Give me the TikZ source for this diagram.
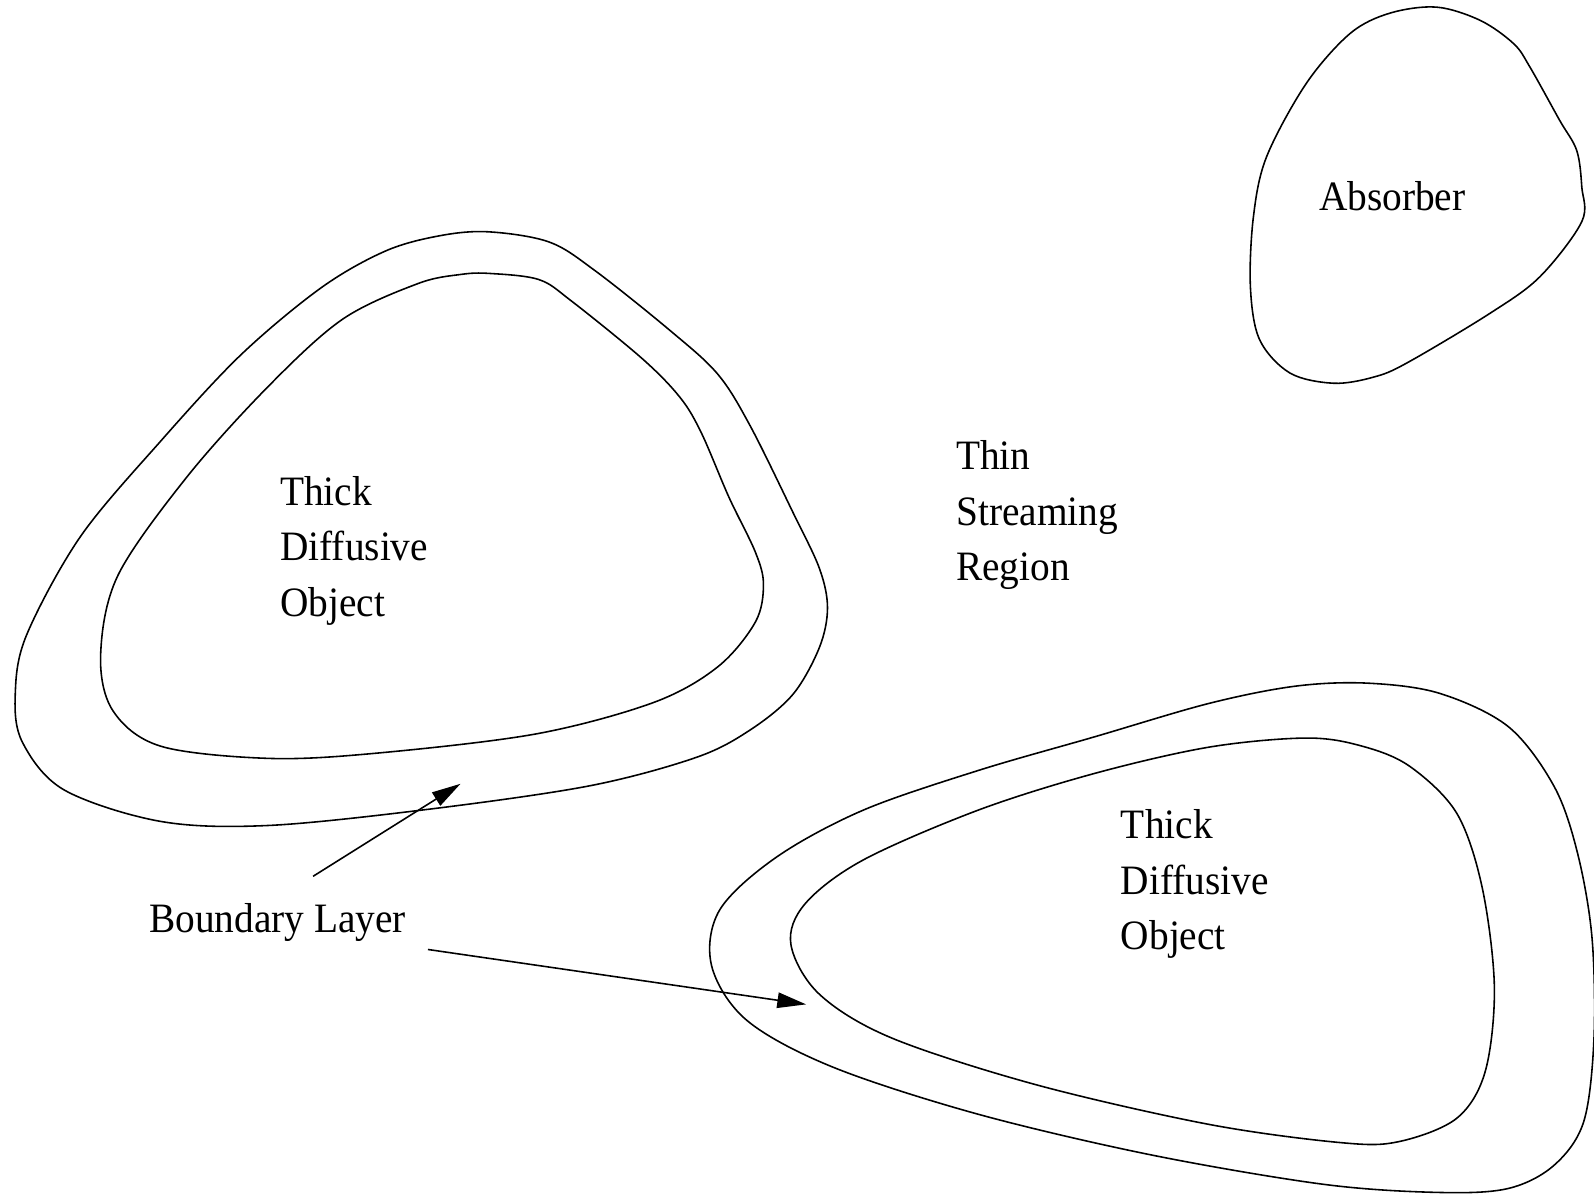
\documentclass[tikz,border=0pt]{standalone}
\usepackage{fontspec}
\setmainfont[FakeStretch=0.94]{Liberation Serif}
\usetikzlibrary{arrows.meta}
\begin{document}
\begin{tikzpicture}[x=0.010166cm,y=-0.010166cm,
  outline/.style={line width=0.45pt, black},
  lbl/.style={inner sep=0pt, anchor=base west, align=left, font=\fontsize{11.9}{15.74}\selectfont},
  pointer/.style={line width=0.45pt, -{Triangle[length=8.2pt,width=4.4pt]}}]
\useasboundingbox (0,0) rectangle (1568,1175);
% left object, outer boundary
\draw[outline] plot[smooth cycle, tension=0.55] coordinates {
 (480,228) (540,238) (585,266) (659,325) (706,368) (738,419) (780,504) (806,559)
 (814,598) (806,637) (780,683) (738,718) (685,745) (580,773) (422,796) (264,812)
 (158,808) (63,777) (22,730) (15,683) (26,625) (79,528) (158,434) (237,349)
 (316,283) (379,247) (432,232)};
% left object, inner boundary
\draw[outline] plot[smooth cycle, tension=0.55] coordinates {
 (482,269) (530,275) (562,296) (632,353) (669,391) (690,426) (717,489) (743,543)
 (751,575) (743,612) (706,656) (643,691) (527,722) (369,741) (264,746) (158,734)
 (111,699) (99,644) (116,566) (184,469) (264,380) (337,314) (411,279) (453,270)};
% right object, outer boundary
\draw[outline] plot[smooth cycle, tension=0.55] coordinates {
 (1345,672) (1416,682) (1484,715) (1529,774) (1552,840) (1566,922) (1568,1021)
 (1558,1103) (1529,1146) (1484,1169) (1416,1173) (1302,1165) (1132,1136) (962,1096)
 (820,1050) (735,1004) (700,950) (708,895) (764,843) (849,797) (962,758)
 (1076,725) (1189,692) (1274,675)};
% right object, inner boundary
\draw[outline] plot[smooth cycle, tension=0.55] coordinates {
 (1285,726) (1340,734) (1387,754) (1433,800) (1458,873) (1470,971) (1461,1054)
 (1433,1100) (1376,1123) (1319,1124) (1189,1106) (1019,1067) (877,1021) (806,978)
 (778,929) (792,889) (849,846) (962,797) (1076,761) (1189,735)};
% absorber
\draw[outline] plot[smooth cycle, tension=0.55] coordinates {
 (1413,7) (1456,20) (1489,43) (1505,66) (1534,118) (1551,148) (1556,184) (1556,218)
 (1515,272) (1466,308) (1384,357) (1351,371) (1312,377) (1269,367)
 (1239,334) (1230,282) (1233,213) (1246,154) (1285,82) (1328,33) (1367,13)};
% labels
\node[lbl] (absorber) at (1297,207) {Absorber};
\node[lbl] (tdoA) at (275,606) {Thick\\Diffusive\\Object};
\node[lbl] (thin) at (940,571) {Thin\\Streaming\\Region};
\node[lbl] (tdoB) at (1102,934) {Thick\\Diffusive\\Object};
\node[lbl] (bl) at (146,917) {Boundary Layer};
% pointers
\coordinate (blA) at (308,862);
\coordinate (blB) at (421,934);
\coordinate (layerA) at (453,771);
\coordinate (layerB) at (793,988);
\draw[pointer] (blA) -- (layerA);
\draw[pointer] (blB) -- (layerB);
\end{tikzpicture}
\end{document}
